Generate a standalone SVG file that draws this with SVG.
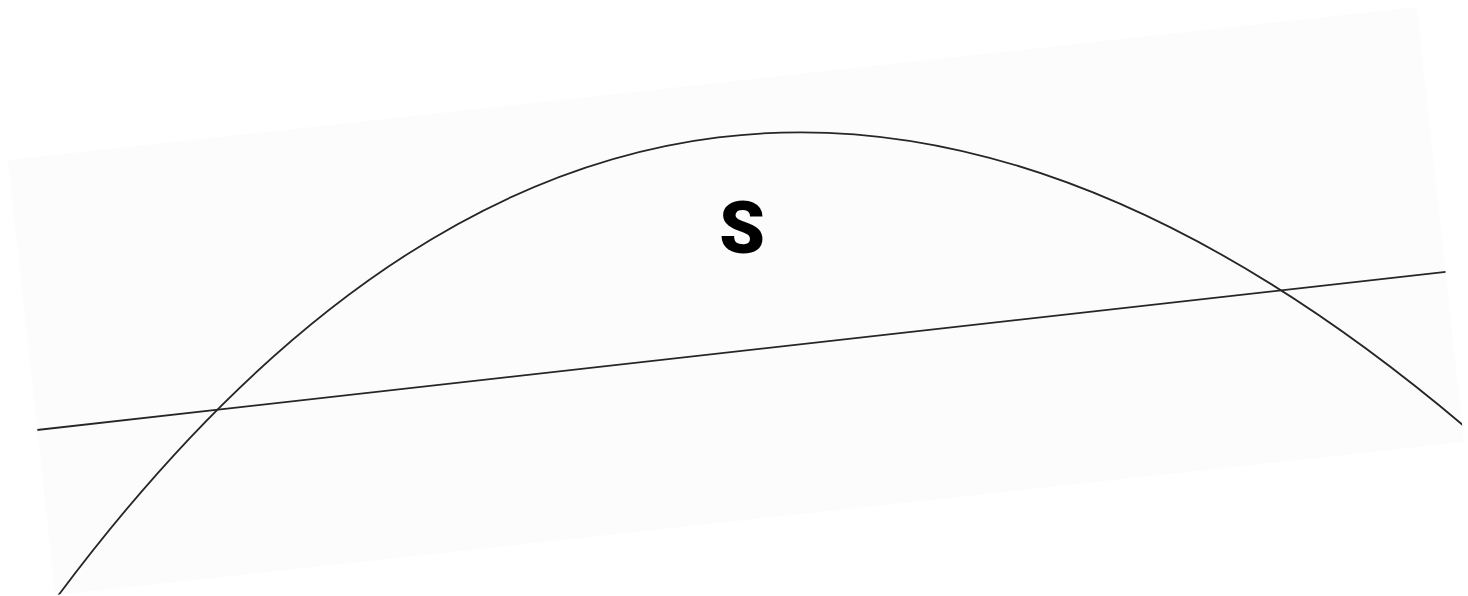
<svg xmlns="http://www.w3.org/2000/svg" width="1468" height="596" viewBox="0 0 1468 596">
  <style>
    .bg { fill: #fcfcfc; stroke: none; }
    .stroke { fill: none; stroke: #262626; stroke-width: 1.8; }
    .label { font-family: Roboto, "Liberation Sans", sans-serif; font-weight: 900; font-size: 73px; fill: #000; }
  </style>
  <defs>
    <clipPath id="panelClip">
      <rect x="27.5" y="82.2" width="1417" height="437.6"/>
    </clipPath>
  </defs>
  <rect width="1468" height="596" fill="#ffffff"/>
  <g id="panel" transform="rotate(-6.2 736 301)">
    <rect class="bg" x="27.5" y="82.2" width="1417" height="437.6"/>
    <g id="connectors" clip-path="url(#panelClip)">
      <path id="curve" class="stroke" d="M -24 581.2 Q 736 -296.8 1496 558"/>
      <line id="baseline" class="stroke" x1="16" y1="353.8" x2="1456" y2="348.7"/>
    </g>
  </g>
  <g id="label-S">
    <text class="label" x="742" y="253" text-anchor="middle">S</text>
  </g>
</svg>
